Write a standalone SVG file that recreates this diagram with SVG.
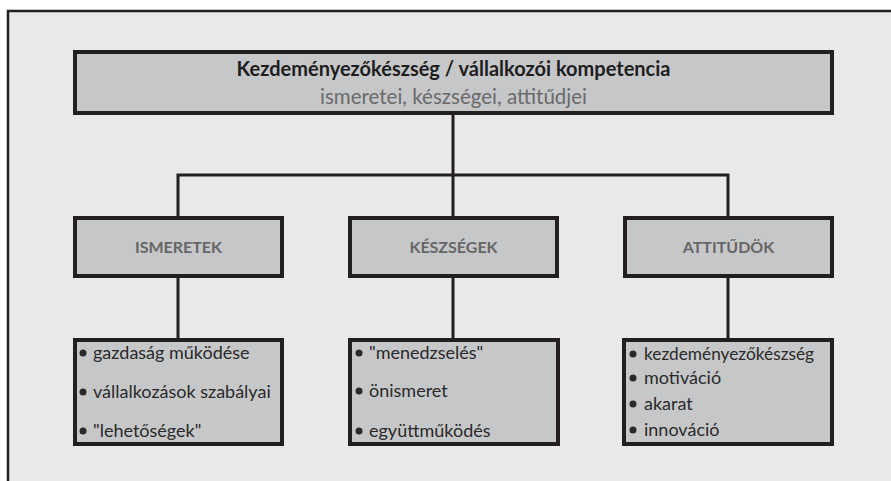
<svg xmlns="http://www.w3.org/2000/svg" width="891" height="481" viewBox="0 0 891 481">
<style>
.box{fill:#c6c7c9;stroke:#231f20;stroke-width:4}
.conn{stroke:#231f20;stroke-width:3;fill:none}
.t{font-family:Lato,"Open Sans","Liberation Sans",sans-serif}
.title{font-size:20px;font-weight:bold;fill:#1e1e1e}
.sub{font-size:20.5px;fill:#6a6a6a}
.head{font-size:16px;font-weight:bold;fill:#666667}
.item{font-size:18px;fill:#2a2a2a}
.dot{fill:#2a2a2a}
</style>
<rect x="0" y="0" width="891" height="481" fill="#ffffff"/>
<rect x="8" y="11" width="883" height="470" fill="#e9e9ea"/>
<path d="M8 481 V11 H891" fill="none" stroke="#231f20" stroke-width="2.5"/>
<g id="connectors">
<path class="conn" d="M453 115 V216"/>
<path class="conn" d="M178 216 V175 H728 V216"/>
<path class="conn" d="M178 277 V338"/>
<path class="conn" d="M453 277 V338"/>
<path class="conn" d="M728 277 V338"/>
</g>
<g id="top">
<rect class="box" x="75" y="52" width="757" height="61"/>
<text class="t title" x="453.5" y="76" text-anchor="middle">Kezdeményezőkészség / vállalkozói kompetencia</text>
<text class="t sub" x="453.5" y="104" text-anchor="middle">ismeretei, készségei, attitűdjei</text>
</g>
<g id="ismeretek">
<rect class="box" x="75" y="218" width="207" height="58"/>
<text class="t head" x="178.5" y="253" text-anchor="middle">ISMERETEK</text>
</g>
<g id="keszsegek">
<rect class="box" x="350" y="218" width="207" height="58"/>
<text class="t head" x="453.5" y="253" text-anchor="middle">KÉSZSÉGEK</text>
</g>
<g id="attitudok">
<rect class="box" x="625" y="218" width="207" height="58"/>
<text class="t head" x="728.5" y="253" text-anchor="middle">ATTITŰDÖK</text>
</g>
<g id="ismeretek-list">
<rect class="box" x="75" y="340" width="207" height="104"/>
<circle class="dot" cx="83" cy="353" r="3.5"/>
<text class="t item" x="93" y="359">gazdaság működése</text>
<circle class="dot" cx="83" cy="392" r="3.5"/>
<text class="t item" x="93" y="398">vállalkozások szabályai</text>
<circle class="dot" cx="83" cy="431" r="3.5"/>
<text class="t item" x="93" y="437">"lehetőségek"</text>
</g>
<g id="keszsegek-list">
<rect class="box" x="350" y="340" width="208" height="104"/>
<circle class="dot" cx="359" cy="353" r="3.5"/>
<text class="t item" x="369" y="359">"menedzselés"</text>
<circle class="dot" cx="359" cy="391" r="3.5"/>
<text class="t item" x="369" y="397">önismeret</text>
<circle class="dot" cx="359" cy="431" r="3.5"/>
<text class="t item" x="369" y="437">együttműködés</text>
</g>
<g id="attitudok-list">
<rect class="box" x="624" y="340" width="208" height="104"/>
<circle class="dot" cx="633" cy="354" r="3.5"/>
<text class="t item" x="644" y="360" textLength="170" lengthAdjust="spacingAndGlyphs">kezdeményezőkészség</text>
<circle class="dot" cx="633" cy="378" r="3.5"/>
<text class="t item" x="644" y="384">motiváció</text>
<circle class="dot" cx="633" cy="404" r="3.5"/>
<text class="t item" x="644" y="410">akarat</text>
<circle class="dot" cx="633" cy="430" r="3.5"/>
<text class="t item" x="644" y="436">innováció</text>
</g>
</svg>
